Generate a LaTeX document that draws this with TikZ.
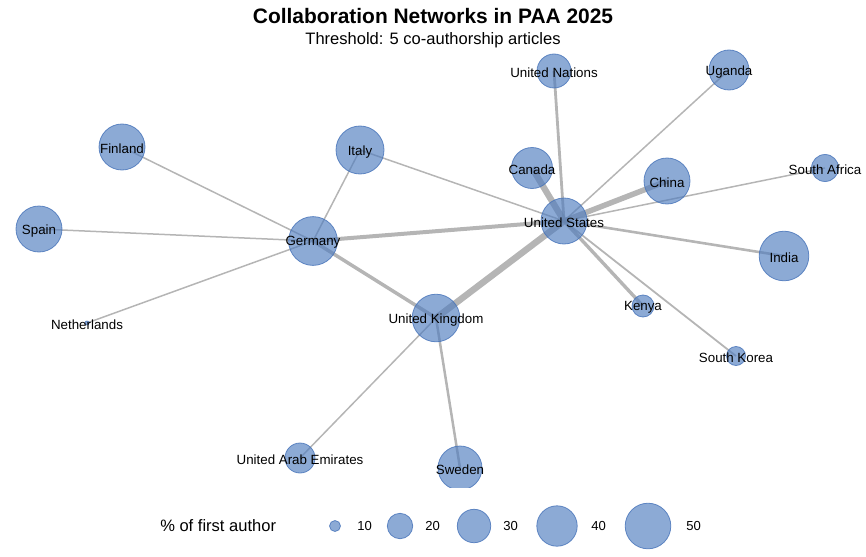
\documentclass[tikz,border=0pt]{standalone}
\usepackage{fontspec}
\setmainfont{Liberation Sans}
\pgfdeclarelayer{edges}
\pgfsetlayers{edges,main}
\definecolor{nodeblue}{RGB}{79,125,191}
\definecolor{nodeline}{RGB}{70,115,185}
\definecolor{edgegray}{RGB}{150,150,150}
\tikzset{
  country/.style={circle, inner sep=0pt, minimum size=#1*1.5pt, fill=nodeblue, fill opacity=0.65, draw=nodeline, draw opacity=0.8, line width=0.6pt},
  lab/.style={font=\fontsize{10}{12}\selectfont, text=black, text opacity=1, fill opacity=1, draw opacity=1, inner sep=0pt, yshift=-1.2pt},
  link/.style={draw=edgegray, draw opacity=0.7, line width=#1*0.75pt},
  legnum/.style={anchor=west, font=\fontsize{9.8}{11}\selectfont, inner sep=0pt},
}
\begin{document}
\begin{tikzpicture}[x=0.75pt,y=-0.75pt]
\useasboundingbox (0,0) rectangle (866,556);
\node[font=\bfseries\fontsize{15.7}{18}\selectfont, inner sep=0pt] (title) at (433,16.5) {Collaboration Networks in PAA 2025};
\node[font=\fontsize{12.4}{14}\selectfont, inner sep=0pt] (subtitle) at (433,40.5) {Threshold: 5 co-authorship articles};

\begin{scope}
\clip (0,0) rectangle (866,487);
\node[country=23,   label={[lab]center:United States}]        (us) at (564,221) {};
\node[country=24.4, label={[lab]center:Germany}]              (de) at (313,241) {};
\node[country=23.8, label={[lab]center:United Kingdom}]       (uk) at (436,318) {};
\node[country=20.5, label={[lab]center:Canada}]               (ca) at (532,168) {};
\node[country=23,   label={[lab]center:China}]                (cn) at (667,181) {};
\node[country=24.8, label={[lab]center:India}]                (in) at (784,256) {};
\node[country=13.5, label={[lab]center:South Africa}]         (za) at (825,168) {};
\node[country=20,   label={[lab]center:Uganda}]               (ug) at (729,70) {};
\node[country=17,   label={[lab]center:United Nations}]       (un) at (554,71) {};
\node[country=24,   label={[lab]center:Italy}]                (it) at (360,150) {};
\node[country=23,   label={[lab]center:Finland}]              (fi) at (122,147) {};
\node[country=23,   label={[lab]center:Spain}]                (es) at (39,229) {};
\node[country=2,    label={[lab]center:Netherlands}]          (nl) at (87,323) {};
\node[country=11,   label={[lab]center:Kenya}]                (ke) at (643,306) {};
\node[country=9.5,  label={[lab]center:South Korea}]          (kr) at (736,356) {};
\node[country=15,   label={[lab]center:United Arab Emirates}] (ae) at (300,458) {};
\node[country=22,   label={[lab]center:Sweden}]               (se) at (460,468) {};
\end{scope}

\begin{pgfonlayer}{edges}
\draw[link=6.5] (us.center) -- (uk.center);
\draw[link=6.3] (us.center) -- (ca.center);
\draw[link=5.5] (us.center) -- (cn.center);
\draw[link=4]   (us.center) -- (de.center);
\draw[link=3.5] (de.center) -- (uk.center);
\draw[link=3.4] (us.center) -- (ke.center);
\draw[link=2.8] (us.center) -- (un.center);
\draw[link=2.6] (us.center) -- (in.center);
\draw[link=2.5] (uk.center) -- (se.center);
\draw[link=1.8] (us.center) -- (kr.center);
\draw[link=1.5] (us.center) -- (it.center);
\draw[link=1.5] (us.center) -- (ug.center);
\draw[link=1.5] (us.center) -- (za.center);
\draw[link=1.5] (de.center) -- (fi.center);
\draw[link=1.5] (de.center) -- (es.center);
\draw[link=1.5] (de.center) -- (nl.center);
\draw[link=1.5] (de.center) -- (it.center);
\draw[link=1.5] (uk.center) -- (ae.center);
\end{pgfonlayer}

% legend
\node[anchor=west, font=\fontsize{12.4}{14}\selectfont, inner sep=0pt] (legtitle) at (160,526) {\% of first author};
\node[country=5.5]  (l10) at (335,526) {};
\node[country=12.7] (l20) at (400,526) {};
\node[country=16.7] (l30) at (474,526) {};
\node[country=20.2] (l40) at (557,526) {};
\node[country=22.8] (l50) at (648,526) {};
\node[legnum] (t10) at (357,526) {10};
\node[legnum] (t20) at (425,526) {20};
\node[legnum] (t30) at (503,526) {30};
\node[legnum] (t40) at (591,526) {40};
\node[legnum] (t50) at (686,526) {50};
\end{tikzpicture}
\end{document}
